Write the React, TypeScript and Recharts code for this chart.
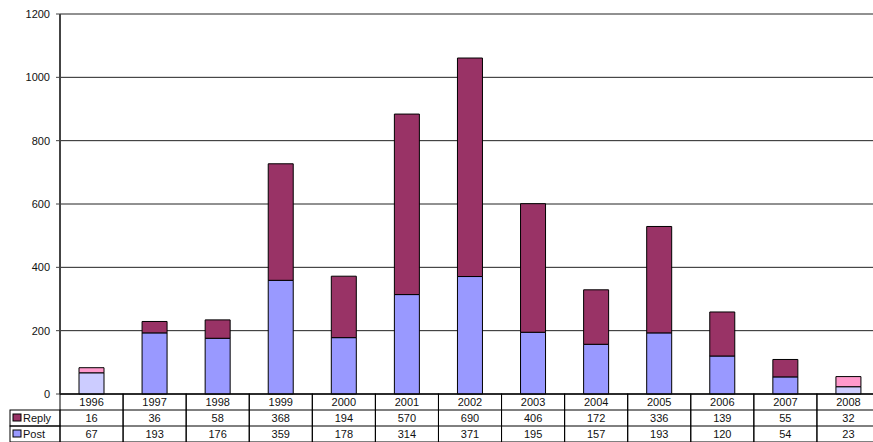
import { BarChart, Bar, XAxis, YAxis, CartesianGrid, Cell } from "recharts";

// Threads per year: posts (bottom of stack) and replies (top)
const years = ["1996", "1997", "1998", "1999", "2000", "2001", "2002", "2003", "2004", "2005", "2006", "2007", "2008"];
const replies = [16, 36, 58, 368, 194, 570, 690, 406, 172, 336, 139, 55, 32];
const posts = [67, 193, 176, 359, 178, 314, 371, 195, 157, 193, 120, 54, 23];
// incomplete years are drawn in paler shades
const partialYears = ["1996", "2008"];
const yTicks = [0, 200, 400, 600, 800, 1000, 1200];

const rows = years.map((year, i) => ({ year, post: posts[i], reply: replies[i] }));

const series = [
  { key: "reply", name: "Reply", values: replies, color: "#993366", pale: "#ff99cc" },
  { key: "post", name: "Post", values: posts, color: "#9999ff", pale: "#ccccff" },
];

const CHART_W = 890;
const CHART_H = 442;
const MARGIN = { top: 14, right: 10, left: 0, bottom: 0 };
const Y_AXIS_W = 60;
const X_AXIS_H = 48;
const CELL_W = (CHART_W - MARGIN.left - MARGIN.right - Y_AXIS_W) / years.length;
const ROW_H = 16;
const LABEL_W = 50;
const FONT = "Arial, 'Liberation Sans', sans-serif";

// Each x tick draws one column of the data table under the plot
function TableTick(props: any) {
  const { x, y, index } = props;
  const left = x - CELL_W / 2;
  const top = y;
  return (
    <g fontFamily={FONT} fontSize={11} fill="#111">
      <rect x={left} y={top} width={CELL_W} height={ROW_H * 3} fill="none" stroke="#000" />
      <line x1={left} x2={left + CELL_W} y1={top + ROW_H} y2={top + ROW_H} stroke="#000" />
      <line x1={left} x2={left + CELL_W} y1={top + ROW_H * 2} y2={top + ROW_H * 2} stroke="#000" />
      <text x={x} y={top + ROW_H / 2 + 4} textAnchor="middle">{years[index]}</text>
      {series.map((s, r) => (
        <text key={s.key} x={x} y={top + ROW_H * (r + 1) + ROW_H / 2 + 4} textAnchor="middle">
          {s.values[index]}
        </text>
      ))}
      {index === 0 &&
        series.map((s, r) => {
          const rowTop = top + ROW_H * (r + 1);
          return (
            <g key={s.key}>
              <rect x={left - LABEL_W} y={rowTop} width={LABEL_W} height={ROW_H} fill="none" stroke="#000" />
              <rect x={left - LABEL_W + 3} y={rowTop + 4} width={8} height={7} fill={s.color} stroke="#000" />
              <text x={left - LABEL_W + 13} y={rowTop + ROW_H / 2 + 4}>{s.name}</text>
            </g>
          );
        })}
    </g>
  );
}

export default function App() {
  return (
    <div style={{ position: "absolute", left: 0, top: 0, width: 873, height: 442, overflow: "hidden", background: "#fff" }}>
      <BarChart width={CHART_W} height={CHART_H} data={rows} margin={MARGIN} barSize={25}>
        <CartesianGrid horizontal vertical={false} stroke="#222" />
        <XAxis
          dataKey="year"
          height={X_AXIS_H}
          interval={0}
          tickSize={0}
          tickMargin={0}
          tickLine={false}
          axisLine={{ stroke: "#222" }}
          tick={<TableTick />}
        />
        <YAxis
          width={Y_AXIS_W}
          domain={[0, 1200]}
          ticks={yTicks}
          interval={0}
          tickSize={4}
          tickMargin={6}
          axisLine={{ stroke: "#444", strokeWidth: 2 }}
          tickLine={{ stroke: "#444" }}
          tick={{ fill: "#111", fontSize: 11, fontFamily: FONT }}
        />
        <Bar dataKey="post" stackId="a" stroke="#000" strokeWidth={1} isAnimationActive={false}>
          {rows.map((r) => (
            <Cell key={r.year} fill={partialYears.includes(r.year) ? "#ccccff" : "#9999ff"} />
          ))}
        </Bar>
        <Bar dataKey="reply" stackId="a" stroke="#000" strokeWidth={1} isAnimationActive={false}>
          {rows.map((r) => (
            <Cell key={r.year} fill={partialYears.includes(r.year) ? "#ff99cc" : "#993366"} />
          ))}
        </Bar>
      </BarChart>
    </div>
  );
}
